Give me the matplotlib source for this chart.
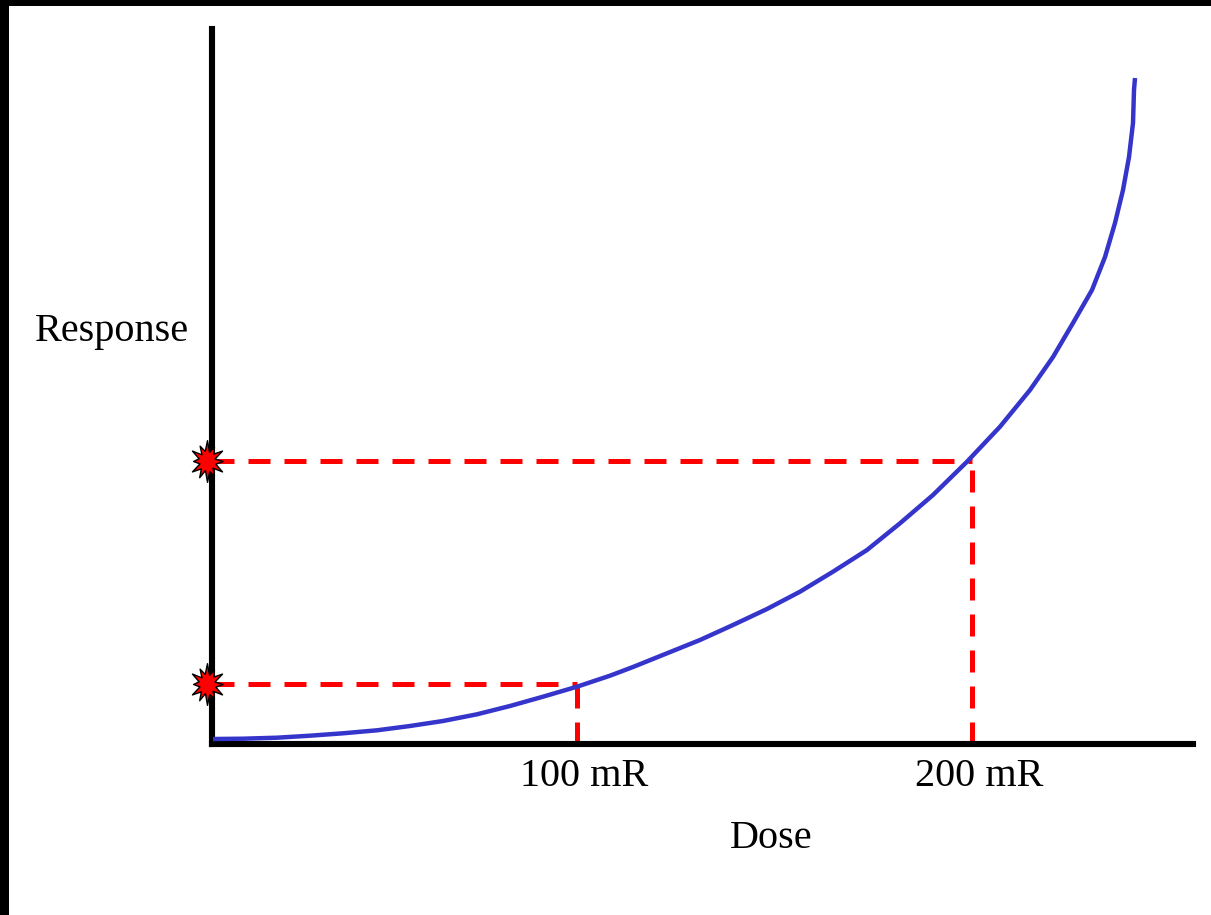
import matplotlib
matplotlib.use("Agg")
import matplotlib.pyplot as plt
from matplotlib.patches import Rectangle
from matplotlib.path import Path
from matplotlib.transforms import ScaledTranslation
import numpy as np

# Dose–response curve (schematic units)
dose = [1, 31, 65, 98, 131, 165, 198, 231, 265, 298, 331, 365, 398,
        421, 455, 488, 521, 555, 588, 621, 655, 688, 721, 755, 788,
        818, 841, 861, 880, 893, 903, 911, 917, 921, 922, 923]
response = [5, 5.3, 6.3, 8.3, 10.7, 13.7, 18, 23, 29.7, 38, 47.3, 57.3, 68.3,
            77, 90.7, 104, 119, 135, 152.3, 172.3, 194, 220.7, 249, 282.3, 317.3,
            354, 387, 421, 454, 487, 521, 554, 587, 621, 654, 666]

# Reference doses and their responses
ref_dose = [365, 760]
ref_response = [60, 283]
tick_labels = ["100 mR", "200 mR"]

W, H = 1211, 915
fig = plt.figure(figsize=(W / 100, H / 100), dpi=100)
fig.patch.set_facecolor("white")

# black frame pieces (top and left)
fig.patches.append(Rectangle((0, 1 - 6 / H), 1, 6 / H, transform=fig.transFigure,
                             facecolor="black", edgecolor="none", zorder=10))
fig.patches.append(Rectangle((0, 0), 9 / W, 1, transform=fig.transFigure,
                             facecolor="black", edgecolor="none", zorder=10))

x0, x1 = 212, 1193
y0, y1 = 744, 29
ax = fig.add_axes([x0 / W, (H - y0) / H, (x1 - x0) / W, (y0 - y1) / H])
ax.set_xlim(0, x1 - x0)
ax.set_ylim(0, y0 - y1)
for s in ["top", "right"]:
    ax.spines[s].set_visible(False)
for s in ["left", "bottom"]:
    ax.spines[s].set_linewidth(4.4)
    ax.spines[s].set_color("black")
    ax.spines[s].set_capstyle("projecting")

serif = ["Liberation Serif", "DejaVu Serif"]
FS = 29

ax.set_yticks([])
ax.set_xticks(ref_dose)
ax.set_xticklabels(tick_labels, family=serif, fontsize=FS)
ax.tick_params(axis="x", length=0, pad=10)
shift = ScaledTranslation(7 / 100, 0, fig.dpi_scale_trans)
for lab in ax.get_xticklabels():
    lab.set_transform(lab.get_transform() + shift)

# red dashed guides
dash = (0, (4.4, 2.8))
for d, r in zip(ref_dose, ref_response):
    ax.plot([0, d], [r, r], color="#ff0000", lw=3.6, linestyle=dash,
            dash_capstyle="butt", zorder=2, clip_on=False)
    ax.plot([d, d], [0, r], color="#ff0000", lw=3.6, linestyle=dash,
            dash_capstyle="butt", zorder=2, clip_on=False)

# curve
ax.plot(dose, response, color="#3535cc", lw=3.2, zorder=3,
        solid_capstyle="butt", solid_joinstyle="round", clip_on=False)

# starburst markers
radii = [1.0, 0.5, 0.85, 0.45, 1.0, 0.5, 0.8, 0.45, 1.0, 0.5, 0.9, 0.45,
         1.0, 0.5, 0.8, 0.45, 1.0, 0.5, 0.9, 0.45, 1.0, 0.5, 0.8, 0.45]
ang = np.linspace(0, 2 * np.pi, len(radii), endpoint=False) + np.pi / 2
verts = [(r * np.cos(a), r * np.sin(a) * 1.2) for r, a in zip(radii, ang)]
verts.append(verts[0])
star = Path(verts, closed=True)
ax.plot([-5] * len(ref_response), ref_response, linestyle="none", marker=star,
        markersize=30, markerfacecolor="#ff0000", markeredgecolor="black",
        markeredgewidth=1.0, zorder=5, clip_on=False)

ax.text((112 - x0) / (x1 - x0), (y0 - 332) / (y0 - y1), "Response",
        transform=ax.transAxes, ha="center", va="center", family=serif, fontsize=FS)
ax.text((771 - x0) / (x1 - x0), (y0 - 838) / (y0 - y1), "Dose",
        transform=ax.transAxes, ha="center", va="center", family=serif, fontsize=FS)

fig.savefig("out.png", dpi=100, facecolor="white")
